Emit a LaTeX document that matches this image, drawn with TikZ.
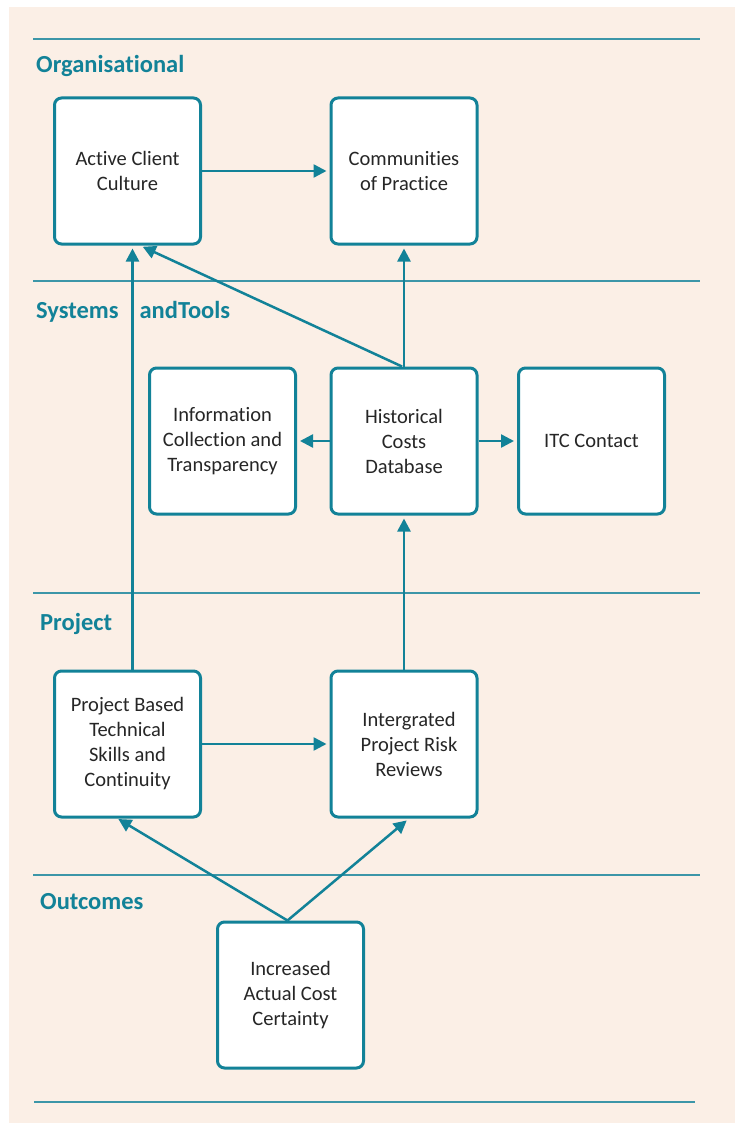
\documentclass[tikz,border=0pt]{standalone}
\usepackage{fontspec}
\setmainfont{Carlito}[Ligatures={NoCommon,NoRequired,NoContextual}]
\usetikzlibrary{arrows.meta}
\definecolor{teal}{RGB}{18,130,152}
\definecolor{rule}{RGB}{60,150,168}
\definecolor{peach}{RGB}{251,239,230}
\definecolor{ink}{RGB}{38,38,38}
\tikzset{
  stage/.style={draw=teal, line width=3pt, fill=white, rounded corners=7pt,
    minimum width=146pt, minimum height=146pt, inner sep=0pt,
    align=center, text=ink, font=\fontsize{20.5}{25}\selectfont},
  heading/.style={anchor=base west, inner sep=0pt, text=teal,
    font=\fontsize{24.5}{28}\selectfont\bfseries},
  link/.style={draw=teal, line width=2.5pt,
    -{Triangle[length=13pt,width=13pt]}, shorten >=3pt},
  divider/.style={draw=rule, line width=1.6pt}
}
\begin{document}
\begin{tikzpicture}[x=1pt,y=-1pt]
\useasboundingbox (0,0) rectangle (735,1123);
\fill[peach] (9,7) rectangle (735,1123);

% layer dividers
\draw[divider] (33,39) -- (700,39);
\draw[divider] (33,281) -- (700,281);
\draw[divider] (33,593) -- (700,593);
\draw[divider] (33,875) -- (700,875);
\draw[divider] (34,1102) -- (695,1102);

% layer headings
\node[heading] (hOrg) at (36,73) {Organisational};
\node[heading] (hSys) at (36,318) {Systems\hspace{21pt}andTools};
\node[heading] (hPrj) at (40,630) {Project};
\node[heading] (hOut) at (40,909) {Outcomes};

% stages
\node[stage] (acc) at (127.5,171) {Active Client\\Culture};
\node[stage] (cop) at (404,171) {Communities\\of Practice};
\node[stage] (icd) at (222.5,441) {Information\\Collection and\\Transparency};
\node[stage] (hcd) at (404,441) {Historical\\Costs\\Database};
\node[stage] (itc) at (591.5,441) {ITC Contact};
\node[stage] (pbs) at (127.5,744) {Project Based\\Technical\\Skills and\\Continuity};
\node[stage] (ipr) at (404,744) {\hspace*{10pt}Intergrated\\\hspace*{10pt}Project Risk\\\hspace*{10pt}Reviews};
\node[stage] (iacc) at (290.5,995) {Increased\\Actual Cost\\Certainty};

% links
\draw[link] (acc.east) -- (cop.west);
\draw[link] (hcd.north) -- (cop.south);
\draw[link] ([xshift=-2pt]hcd.north) -- ([xshift=12.5pt]acc.south);
\draw[link] ([xshift=5pt]pbs.north) -- ([xshift=5pt]acc.south);
\draw[link] (hcd.west) -- (icd.east);
\draw[link] (hcd.east) -- (itc.west);
\draw[link] (ipr.north) -- (hcd.south);
\draw[link] (pbs.east) -- (ipr.west);
\draw[link, shorten >=1pt] ([xshift=-3pt]iacc.north) -- ([xshift=-10pt]pbs.south);
\draw[link] ([xshift=-3pt]iacc.north) -- ([xshift=5pt]ipr.south);
\end{tikzpicture}
\end{document}
